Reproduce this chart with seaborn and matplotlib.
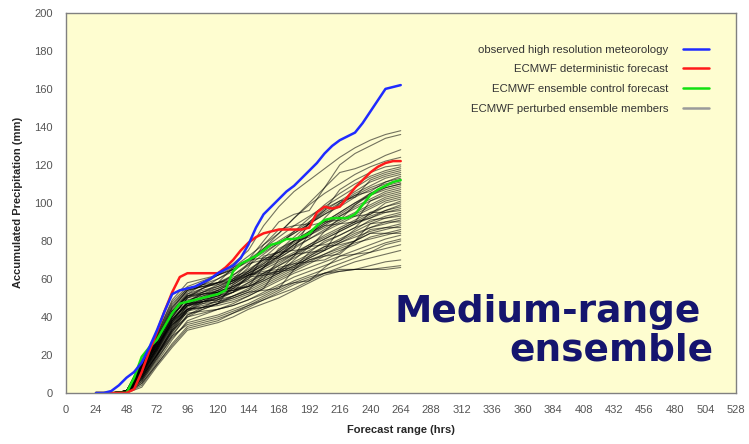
import matplotlib
matplotlib.use("Agg")
import matplotlib.pyplot as plt
from matplotlib.lines import Line2D
import seaborn as sns
import pandas as pd

# forecast hours for the analysed / control / deterministic curves
hours_fine = list(range(24, 265, 6))
observed = [0, 0, 1, 4, 8, 11, 16, 24, 33, 43, 52, 54, 55, 56, 58, 60, 63, 65, 67,
            71, 78, 87, 94, 98, 102, 106, 109, 113, 117, 121, 126, 130, 133, 135,
            137, 142, 148, 154, 160, 161, 162]
deterministic = [0, 0, 0, 0, 0, 2, 11, 22, 32, 43, 53, 61, 63, 63, 63, 63, 63, 66,
                 70, 75, 79, 82, 84, 85, 86, 86, 86, 86, 87, 95, 98, 97, 98, 103,
                 108, 112, 116, 119, 121, 122, 122]
control = [0, 0, 0, 0, 0, 8, 19, 24, 28, 35, 42, 47, 48, 49, 50, 51, 52, 54, 64,
           68, 70, 72, 75, 78, 79, 81, 81, 82, 84, 88, 91, 92, 92, 92, 94, 99, 104,
           107, 109, 111, 112]

# perturbed members, 12-hourly from 36h
hours_members = list(range(36, 265, 12))
members = [
    [0, 1, 12, 26, 42, 52, 57, 62, 68, 75, 88, 98, 106, 112, 118, 124, 129, 133, 136, 138],
    [0, 0, 10, 24, 40, 50, 55, 60, 65, 70, 80, 90, 94, 96, 108, 120, 126, 130, 134, 136],
    [0, 1, 14, 28, 44, 54, 58, 62, 66, 72, 78, 84, 92, 100, 108, 116, 118, 121, 125, 128],
    [0, 0, 9, 22, 37, 48, 53, 57, 62, 68, 76, 84, 92, 99, 105, 110, 115, 119, 122, 124],
    [0, 1, 15, 30, 47, 55, 57, 58, 59, 66, 78, 86, 88, 89, 96, 107, 112, 116, 119, 120],
    [0, 0, 8, 20, 34, 45, 50, 54, 58, 64, 71, 78, 85, 92, 99, 105, 110, 114, 117, 119],
    [0, 1, 13, 27, 43, 53, 57, 60, 64, 70, 76, 82, 88, 93, 98, 103, 108, 113, 116, 118],
    [0, 0, 11, 24, 39, 46, 48, 50, 60, 68, 70, 71, 76, 90, 97, 101, 103, 112, 115, 117],
    [0, 1, 16, 31, 48, 56, 59, 62, 65, 70, 75, 80, 85, 90, 96, 101, 106, 111, 114, 116],
    [0, 0, 7, 19, 33, 44, 49, 53, 57, 62, 68, 75, 82, 89, 95, 100, 105, 109, 113, 115],
    [0, 1, 12, 26, 42, 51, 55, 58, 62, 67, 73, 79, 84, 89, 94, 99, 104, 108, 111, 114],
    [0, 0, 10, 23, 38, 48, 52, 53, 54, 56, 66, 76, 80, 82, 92, 100, 104, 106, 111, 113],
    [0, 1, 17, 31, 49, 58, 60, 62, 65, 69, 74, 79, 84, 89, 94, 98, 103, 107, 110, 112],
    [0, 0, 9, 21, 35, 46, 51, 54, 58, 63, 69, 74, 80, 85, 90, 95, 100, 105, 109, 111],
    [0, 1, 13, 27, 43, 52, 55, 58, 66, 70, 71, 72, 80, 88, 90, 91, 99, 105, 108, 110],
    [0, 0, 11, 24, 38, 48, 52, 55, 59, 64, 70, 75, 80, 85, 90, 95, 100, 104, 108, 110],
    [0, 1, 14, 29, 45, 54, 56, 58, 60, 63, 67, 72, 78, 84, 89, 94, 99, 104, 107, 109],
    [0, 0, 7, 19, 32, 43, 48, 51, 55, 60, 66, 72, 78, 83, 88, 93, 98, 102, 106, 108],
    [0, 1, 12, 25, 40, 50, 53, 56, 60, 65, 70, 74, 79, 84, 89, 93, 97, 101, 105, 107],
    [0, 0, 10, 23, 38, 44, 45, 47, 57, 62, 63, 64, 72, 84, 88, 89, 90, 101, 104, 106],
    [0, 1, 15, 29, 45, 54, 56, 58, 61, 64, 68, 73, 78, 83, 87, 91, 95, 99, 103, 105],
    [0, 0, 8, 20, 34, 44, 48, 52, 56, 61, 66, 71, 76, 81, 86, 90, 94, 98, 102, 104],
    [0, 1, 13, 27, 42, 51, 54, 56, 59, 63, 67, 72, 77, 81, 85, 89, 93, 97, 101, 103],
    [0, 0, 11, 24, 38, 47, 50, 53, 56, 60, 72, 74, 75, 76, 85, 92, 93, 94, 100, 102],
    [0, 1, 14, 28, 43, 51, 53, 55, 58, 62, 66, 70, 74, 78, 82, 86, 90, 94, 98, 101],
    [0, 0, 6, 17, 30, 41, 45, 49, 53, 58, 63, 68, 73, 78, 83, 87, 91, 95, 98, 100],
    [0, 1, 12, 26, 41, 50, 52, 54, 55, 56, 60, 70, 73, 74, 75, 86, 90, 92, 96, 99],
    [0, 0, 10, 22, 36, 46, 49, 51, 54, 58, 62, 67, 72, 77, 81, 85, 89, 93, 96, 98],
    [0, 1, 16, 30, 46, 55, 56, 57, 59, 62, 65, 69, 73, 77, 81, 85, 89, 92, 95, 97],
    [0, 0, 8, 20, 33, 43, 47, 50, 53, 62, 64, 65, 66, 74, 80, 83, 87, 95, 95, 96],
    [0, 1, 13, 27, 41, 49, 51, 53, 56, 59, 63, 67, 71, 75, 79, 83, 87, 90, 93, 95],
    [0, 0, 11, 23, 37, 46, 48, 50, 53, 57, 61, 65, 69, 73, 77, 81, 85, 89, 92, 94],
    [0, 1, 14, 28, 42, 47, 48, 49, 55, 61, 62, 63, 70, 77, 78, 80, 86, 91, 92, 93],
    [0, 0, 6, 18, 31, 40, 44, 47, 51, 55, 59, 63, 67, 71, 75, 79, 83, 87, 90, 92],
    [0, 1, 12, 25, 39, 47, 49, 51, 53, 56, 60, 64, 68, 72, 76, 80, 84, 87, 89, 91],
    [0, 0, 10, 22, 35, 44, 46, 48, 51, 54, 62, 64, 65, 72, 77, 78, 80, 89, 90, 90],
    [0, 1, 15, 29, 43, 51, 52, 53, 54, 56, 59, 63, 67, 71, 75, 79, 82, 85, 87, 89],
    [0, 0, 8, 20, 32, 41, 44, 47, 50, 53, 57, 61, 65, 69, 73, 77, 80, 84, 86, 88],
    [0, 1, 13, 26, 39, 46, 47, 48, 50, 53, 54, 55, 65, 70, 72, 73, 80, 86, 87, 87],
    [0, 0, 11, 23, 36, 43, 45, 47, 49, 52, 56, 60, 64, 68, 72, 75, 78, 82, 84, 86],
    [0, 1, 14, 27, 40, 47, 48, 49, 51, 54, 58, 62, 66, 70, 73, 76, 79, 81, 83, 85],
    [0, 0, 5, 16, 28, 38, 41, 44, 47, 51, 55, 66, 68, 69, 70, 74, 80, 84, 84, 84],
    [0, 1, 12, 25, 37, 44, 45, 46, 48, 51, 55, 59, 63, 66, 69, 72, 75, 78, 81, 83],
    [0, 0, 9, 21, 33, 40, 42, 44, 46, 49, 53, 57, 61, 64, 67, 70, 73, 76, 79, 81],
    [0, 1, 12, 25, 36, 42, 43, 44, 46, 49, 52, 56, 58, 59, 66, 72, 73, 74, 78, 80],
    [0, 0, 7, 18, 29, 37, 39, 41, 44, 47, 51, 55, 59, 62, 65, 68, 71, 74, 76, 78],
    [0, 0, 5, 15, 26, 35, 37, 39, 42, 45, 49, 53, 57, 60, 63, 66, 69, 71, 73, 75],
    [0, 0, 4, 15, 25, 34, 36, 38, 42, 46, 50, 54, 58, 61, 63, 65, 65, 67, 69, 70],
    [0, 0, 3, 14, 24, 33, 35, 37, 40, 44, 47, 50, 54, 58, 62, 64, 65, 65, 66, 67],
    [0, 1, 9, 20, 30, 36, 38, 40, 43, 46, 49, 52, 55, 59, 63, 64, 65, 65, 65, 66],
]

x_ticks = list(range(0, 529, 24))
y_ticks = list(range(0, 201, 20))
legend_labels = ["observed high resolution meteorology",
                 "ECMWF deterministic forecast",
                 "ECMWF ensemble control forecast",
                 "ECMWF perturbed ensemble members"]

ens = pd.DataFrame(
    [(i, h, v) for i, row in enumerate(members) for h, v in zip(hours_members, row)],
    columns=["member", "hours", "mm"])
main = pd.DataFrame({"hours": hours_fine, "observed": observed,
                     "deterministic": deterministic, "control": control})

sns.set_style("white")
plt.rcParams["font.family"] = ["Liberation Sans", "DejaVu Sans"]

fig = plt.figure(figsize=(7.49, 4.44), dpi=100)
ax = fig.add_axes([0.0875, 0.115, 0.895, 0.856])
ax.set_facecolor("#fefdd0")

sns.lineplot(data=ens, x="hours", y="mm", units="member", estimator=None,
             color="black", alpha=0.55, linewidth=0.8, ax=ax)
sns.lineplot(data=main, x="hours", y="control", color="#11e011", linewidth=1.8, ax=ax)
sns.lineplot(data=main, x="hours", y="deterministic", color="#ff1a1a", linewidth=1.8, ax=ax)
sns.lineplot(data=main, x="hours", y="observed", color="#1f2bff", linewidth=1.8, ax=ax)

ax.set_xlim(0, 528)
ax.set_ylim(0, 200)
ax.set_xticks(x_ticks)
ax.set_yticks(y_ticks)
ax.tick_params(direction="in", length=2, width=0.8, color="#808080",
               labelcolor="#555555", labelsize=8, pad=9)
for s in ax.spines.values():
    s.set_color("#808080")
    s.set_linewidth(1)

ax.set_xlabel("Forecast range (hrs)", fontsize=8, fontweight="bold", labelpad=7)
ax.set_ylabel("Accumulated Precipitation (mm)", fontsize=8, fontweight="bold", labelpad=8)

handles = [Line2D([], [], color="#1f2bff", lw=1.8),
           Line2D([], [], color="#ff1a1a", lw=1.8),
           Line2D([], [], color="#11e011", lw=1.8),
           Line2D([], [], color="#9a9a9a", lw=1.8)]
leg = ax.legend(handles, legend_labels, loc="upper right", bbox_to_anchor=(0.967, 0.928),
                frameon=False, markerfirst=False, fontsize=8.2, handlelength=2.3,
                handletextpad=1.3, labelspacing=0.85, borderaxespad=0)
for t in leg.get_texts():
    t.set_color("#333333")

fig.text(0.936, 0.275, "Medium-range", ha="right", va="baseline", fontsize=27,
         fontweight="bold", color="#15156e", family="DejaVu Sans")
fig.text(0.952, 0.189, "ensemble", ha="right", va="baseline", fontsize=27,
         fontweight="bold", color="#15156e", family="DejaVu Sans")

fig.savefig("out.png", dpi=100)
